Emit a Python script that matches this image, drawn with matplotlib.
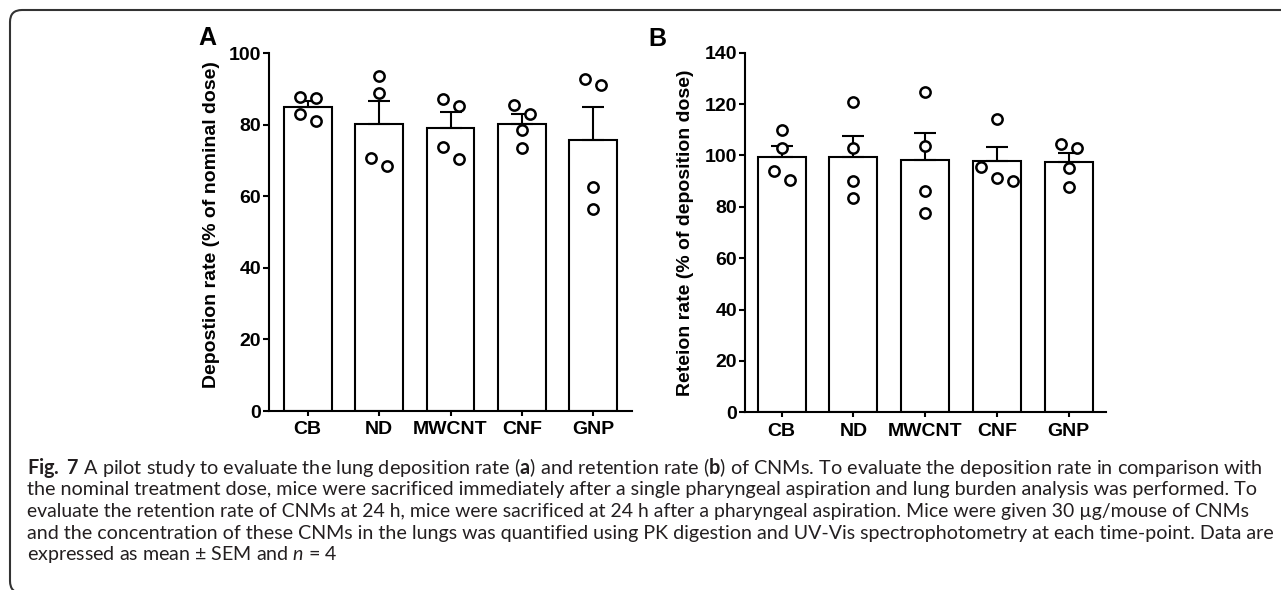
import numpy as np
import matplotlib
matplotlib.use('Agg')
import matplotlib.pyplot as plt
from matplotlib.patches import FancyBboxPatch
from matplotlib.transforms import IdentityTransform

plt.rcParams['font.family'] = ['Liberation Sans', 'DejaVu Sans']
plt.rcParams['mathtext.fontset'] = 'custom'
plt.rcParams['mathtext.rm'] = 'Lato'
plt.rcParams['mathtext.bf'] = 'Lato:bold'
plt.rcParams['mathtext.it'] = 'Lato:italic'

W, H = 1281, 590

# data
categories = ['CB', 'ND', 'MWCNT', 'CNF', 'GNP']

dep_mean = [84.9, 80.3, 79.1, 80.2, 75.7]
dep_sem = [1.6, 6.3, 4.3, 2.7, 9.3]
dep_points = [[87.7, 87.4, 82.9, 81.1],
              [93.5, 88.8, 70.7, 68.3],
              [87.2, 85.1, 73.7, 70.3],
              [85.6, 83.1, 78.6, 73.6],
              [92.6, 91.2, 62.6, 56.3]]

ret_mean = [99.5, 99.4, 98.2, 97.7, 97.4]
ret_sem = [4.3, 8.3, 10.4, 5.7, 3.5]
ret_points = [[109.9, 102.8, 93.9, 90.4],
              [120.9, 102.8, 90.2, 83.3],
              [124.6, 103.7, 86.2, 77.7],
              [114.2, 95.5, 91.3, 89.9],
              [104.3, 102.8, 95.2, 87.8]]

caption = [
    r"$\mathbf{Fig.\ 7}$ A pilot study to evaluate the lung deposition rate ($\mathbf{a}$) and retention rate ($\mathbf{b}$) of CNMs. To evaluate the deposition rate in comparison with",
    "the nominal treatment dose, mice were sacrificed immediately after a single pharyngeal aspiration and lung burden analysis was performed. To",
    "evaluate the retention rate of CNMs at 24 h, mice were sacrificed at 24 h after a pharyngeal aspiration. Mice were given 30 µg/mouse of CNMs",
    "and the concentration of these CNMs in the lungs was quantified using PK digestion and UV-Vis spectrophotometry at each time-point. Data are",
    r"expressed as mean ± SEM and $n$ = 4",
]
# right end of each caption line in the reference (px), last line left free
caption_ends = [1258, 1255, 1246, 1267, None]


def swarm_offsets(vals, px_y, px_x, thresh=14, step_px=16):
    # group points that would overlap into rows, centre each row
    order = sorted(range(len(vals)), key=lambda i: -vals[i])
    rows = []
    for i in order:
        if rows and (vals[rows[-1][-1]] - vals[i]) * px_y < thresh:
            rows[-1].append(i)
        else:
            rows.append([i])
    offs = [0.0] * len(vals)
    for row in rows:
        n = len(row)
        for k, i in enumerate(row):
            offs[i] = (k - (n - 1) / 2) * step_px / px_x
    return offs


def panel(ax, means, sems, points, ymax, xlim, ylabel, lab_y):
    x = np.arange(len(categories))
    ax.set_xlim(*xlim)
    ax.set_ylim(0, ymax)
    ax.bar(x, means, width=0.67, color='white', edgecolor='black', linewidth=1.5, zorder=2)
    ax.errorbar(x, means, yerr=[np.zeros(len(sems)), sems], fmt='none', ecolor='black',
                elinewidth=1.5, capsize=8, capthick=1.5, zorder=3)
    bb = ax.get_window_extent()
    px_y = bb.height / ymax
    px_x = bb.width / (xlim[1] - xlim[0])
    for i, pts in enumerate(points):
        offs = swarm_offsets(pts, px_y, px_x)
        ax.plot(i + np.array(offs), pts, 'o', ms=7.4, mfc='white', mec='black', mew=1.8,
                zorder=4, clip_on=False)
    for s in ['top', 'right']:
        ax.spines[s].set_visible(False)
    for s in ['left', 'bottom']:
        ax.spines[s].set_linewidth(1.5)
    ax.set_yticks(np.arange(0, ymax + 1, 20))
    ax.set_xticks(x)
    ax.set_xticklabels(categories)
    ax.tick_params(axis='y', length=4, width=1.5, pad=1.5, labelsize=14)
    ax.tick_params(axis='x', length=3.5, width=1.5, pad=4, labelsize=14)
    for t in ax.get_xticklabels() + ax.get_yticklabels():
        t.set_fontweight('bold')
    ax.set_ylabel(ylabel, fontsize=14, fontweight='bold')
    ax.yaxis.set_label_coords(lab_y[0], lab_y[1])


fig = plt.figure(figsize=(W / 100, H / 100), dpi=100)
axA = fig.add_axes([269 / W, 1 - 411 / H, 363 / W, 358 / H])
axB = fig.add_axes([745 / W, 1 - 412.3 / H, 361 / W, 359.6 / H])

panel(axA, dep_mean, dep_sem, dep_points, 100, (-0.54, 4.54),
      'Depostion rate (% of nominal dose)', (-0.135, 0.52))
panel(axB, ret_mean, ret_sem, ret_points, 140, (-0.51, 4.52),
      'Reteion rate (% of deposition dose)', (-0.14, 0.5))

fig.text(207 / W, 1 - 38 / H, 'A', fontsize=18, fontweight='bold', ha='center', va='center')
fig.text(657 / W, 1 - 39 / H, 'B', fontsize=18, fontweight='bold', ha='center', va='center')

# caption, each full line fitted to its width in the reference
x0 = 27
baselines = [474, 495.5, 517, 538.5, 560]
texts = []
for line, yb in zip(caption, baselines):
    t = fig.text(x0 / W, 1 - yb / H, line, fontsize=13, family='Lato', color='#231f20',
                 ha='left', va='baseline')
    texts.append(t)
fig.canvas.draw()
sizes = []
for t, end in zip(texts, caption_ends):
    if end is None:
        continue
    fs = 13 * (end - x0) / t.get_window_extent().width
    t.set_fontsize(fs)
    sizes.append(fs)
for t, end in zip(texts, caption_ends):
    if end is None:
        t.set_fontsize(np.mean(sizes))

# rounded frame around the figure
frame = FancyBboxPatch((10, -3), 1290, 583, boxstyle='round,pad=0,rounding_size=12',
                       transform=IdentityTransform(), fill=False, edgecolor='#333333',
                       linewidth=1.5)
fig.add_artist(frame)

fig.savefig('out.png', dpi=100)
